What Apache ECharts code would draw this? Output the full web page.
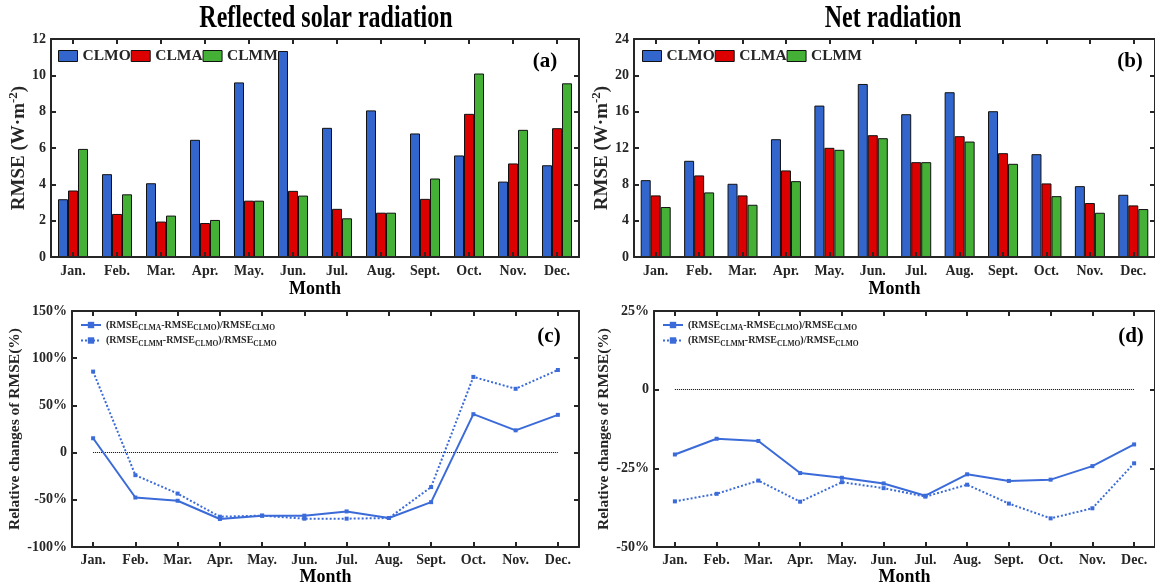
<!DOCTYPE html>
<html>
<head>
<meta charset="utf-8">
<script src="https://cdn.jsdelivr.net/npm/echarts@6/dist/echarts.min.js"></script>
<style>
html,body{margin:0;padding:0;background:#fff;}
#c{width:1155px;height:587px;}
</style>
</head>
<body>
<div id="c"></div>
<script>
const months = ['Jan.','Feb.','Mar.','Apr.','May.','Jun.','Jul.','Aug.','Sept.','Oct.','Nov.','Dec.'];

// (a) Reflected solar radiation RMSE (W·m-2)
const rsCLMO = [3.18, 4.56, 4.06, 6.45, 9.61, 11.34, 7.11, 8.07, 6.80, 5.59, 4.15, 5.05];
const rsCLMA = [3.66, 2.37, 1.95, 1.87, 3.10, 3.64, 2.65, 2.44, 3.20, 7.88, 5.15, 7.09];
const rsCLMM = [5.95, 3.45, 2.28, 2.04, 3.10, 3.38, 2.13, 2.44, 4.32, 10.10, 7.00, 9.56];

// (b) Net radiation RMSE (W·m-2)
const netCLMO = [8.46, 10.59, 8.06, 12.97, 16.67, 19.05, 15.72, 18.14, 16.05, 11.32, 7.80, 6.85];
const netCLMA = [6.78, 8.98, 6.78, 9.53, 12.02, 13.41, 10.44, 13.30, 11.43, 8.10, 5.94, 5.68];
const netCLMM = [5.50, 7.11, 5.75, 8.35, 11.80, 13.08, 10.44, 12.71, 10.26, 6.70, 4.87, 5.28];

// (c) Relative changes of RMSE (%), reflected solar radiation
const rsRelA = [15.2, -47.6, -51.0, -70.3, -66.8, -66.8, -62.3, -69.3, -52.5, 40.7, 23.6, 40.0];
const rsRelM = [85.8, -23.9, -43.4, -67.9, -66.8, -70.0, -70.0, -69.3, -36.5, 80.2, 67.6, 87.5];

// (d) Relative changes of RMSE (%), net radiation
const netRelA = [-20.6, -15.6, -16.3, -26.5, -28.0, -29.8, -33.7, -26.9, -29.0, -28.6, -24.3, -17.4];
const netRelM = [-35.5, -33.1, -28.9, -35.6, -29.4, -31.3, -34.0, -30.2, -36.2, -40.9, -37.7, -23.4];

const FONT = '"Liberation Serif","Times New Roman",serif';
const AX = '#262626';
const C_BLUE = '#3366CC', C_RED = '#DD0000', C_GREEN = '#44B035', C_LINE = '#3B6BD8';

const chart = echarts.init(document.getElementById('c'), null, {renderer:'canvas'});

function xAxes(gi, labelSize, nameGap, labelMargin) {
  const common = {
    type:'category', gridIndex:gi, data:months, boundaryGap:true, z:10,
    axisLine:{show:true, onZero:false, lineStyle:{color:AX, width:2}},
    axisTick:{show:true, inside:true, length:5, alignWithLabel:true, lineStyle:{color:AX, width:2}},
    splitLine:{show:false}
  };
  return [
    Object.assign({}, common, {
      position:'bottom',
      axisLabel:{show:true, interval:0, margin:labelMargin, fontFamily:FONT, fontWeight:'bold', fontSize:labelSize, color:AX},
      name:'Month', nameLocation:'middle', nameGap:nameGap,
      nameTextStyle:{fontFamily:FONT, fontWeight:'bold', fontSize:18, color:'#000'}
    }),
    Object.assign({}, common, {position:'top', axisLabel:{show:false}})
  ];
}

function yAxes(gi, min, max, interval, name, nameGap, nameStyle, fmt) {
  const common = {
    type:'value', gridIndex:gi, min:min, max:max, interval:interval, z:10,
    axisLine:{show:true, onZero:false, lineStyle:{color:AX, width:2}},
    axisTick:{show:true, inside:true, length:5, lineStyle:{color:AX, width:2}},
    splitLine:{show:false}
  };
  return [
    Object.assign({}, common, {
      position:'left',
      axisLabel:{show:true, margin:5, fontFamily:FONT, fontWeight:'bold', fontSize:14, color:AX, formatter:fmt},
      name:name, nameLocation:'middle', nameGap:nameGap, nameTextStyle:nameStyle
    }),
    Object.assign({}, common, {position:'right', axisLabel:{show:false}})
  ];
}

const rmseName = '{t|RMSE (W·m}{s|-2}{t|)}';
const rmseStyle = {
  fontFamily:FONT, fontWeight:'bold', fontSize:19, color:AX,
  rich:{
    t:{fontFamily:FONT, fontWeight:'bold', fontSize:19, color:AX},
    s:{fontFamily:FONT, fontWeight:'bold', fontSize:13, color:AX, padding:[0,0,10,0]}
  }
};
const relStyle = {fontFamily:FONT, fontWeight:'bold', fontSize:15.5, color:AX};
const pctFmt = v => (v === 0 ? '0' : v + '%');

const xs = [].concat(
  xAxes(0, 14, 23, 7), xAxes(1, 14, 23, 7),
  xAxes(2, 14, 21, 6), xAxes(3, 14, 21, 6)
);
const ys = [].concat(
  yAxes(0, 0, 12, 2, rmseName, 17, rmseStyle),
  yAxes(1, 0, 24, 4, rmseName, 18, rmseStyle),
  yAxes(2, -100, 150, 50, 'Relative changes of RMSE(%)', 44, relStyle, pctFmt),
  yAxes(3, -50, 25, 25, 'Relative changes of RMSE(%)', 37, relStyle, pctFmt)
);

function bar(name, data, color, gi) {
  return {
    type:'bar', name:name, data:data, xAxisIndex:gi*2, yAxisIndex:gi*2,
    barWidth:10, barGap:'0%', z:2,
    itemStyle:{color:color, borderColor:'#111', borderWidth:1},
    emphasis:{disabled:true}, animation:false
  };
}
function line(name, data, dotted, gi, zero) {
  const s = {
    type:'line', name:name, data:data, xAxisIndex:gi*2, yAxisIndex:gi*2,
    symbol:'rect', symbolSize:4, showSymbol:true,
    lineStyle:{color:C_LINE, width:2, type: dotted ? [2,2] : 'solid'},
    itemStyle:{color:C_LINE},
    emphasis:{disabled:true}, animation:false, z:5
  };
  if (zero) {
    s.markLine = {
      silent:true, symbol:['none','none'], animation:false,
      label:{show:false},
      lineStyle:{color:'#000', type:[1,1], width:1},
      data:[[{coord:['Jan.',0]},{coord:['Dec.',0]}]]
    };
  }
  return s;
}

const relA = 'A', relM = 'M';
const legRich = {
  s:{fontFamily:FONT, fontWeight:'bold', fontSize:7.5, color:AX, padding:[7,0,0,0]}
};
function relLegend(left) {
  return {
    left:left, top:320, padding:0, orient:'vertical', itemGap:3, itemWidth:20, itemHeight:8,
    data:[relA, relM],
    textStyle:{fontFamily:FONT, fontWeight:'bold', fontSize:10, color:AX, rich:legRich},
    formatter: n => n === relA ? '(RMSE{s|CLMA}-RMSE{s|CLMO})/RMSE{s|CLMO}' : '(RMSE{s|CLMM}-RMSE{s|CLMO})/RMSE{s|CLMO}',
    selectedMode:false
  };
}
function barLegend(left) {
  return {
    left:left, top:48, padding:0, orient:'horizontal', itemGap:0, itemWidth:19, itemHeight:11,
    icon:'rect', data:['CLMO','CLMA','CLMM'],
    itemStyle:{borderColor:'#111', borderWidth:1},
    textStyle:{fontFamily:FONT, fontWeight:'bold', fontSize:15.5, color:AX},
    selectedMode:false
  };
}

function gtext(x, y, text, size, scaleY) {
  return {
    type:'text', x:x, y:y, scaleY:scaleY || 1, z:100,
    style:{text:text, font:'bold ' + size + 'px ' + FONT, fill:'#000',
      textAlign:'center', textVerticalAlign:'middle', align:'center', verticalAlign:'middle'}
  };
}

chart.setOption({
  backgroundColor:'#fff',
  animation:false,
  grid:[
    {left:51, top:39, width:528, height:218},
    {left:634, top:39, width:526, height:218},
    {left:72, top:311, width:507, height:238},
    {left:654, top:311, width:506, height:238}
  ],
  xAxis:xs,
  yAxis:ys,
  legend:[barLegend(58), barLegend(642), relLegend(80), relLegend(662)],
  graphic:[
    gtext(326, 19, 'Reflected solar radiation', 24, 1.35),
    gtext(893, 19, 'Net radiation', 24, 1.35),
    gtext(545, 62, '(a)', 21),
    gtext(1130, 62, '(b)', 21),
    gtext(549, 337, '(c)', 21),
    gtext(1131, 337, '(d)', 21)
  ],
  series:[
    bar('CLMO', rsCLMO, C_BLUE, 0),
    bar('CLMA', rsCLMA, C_RED, 0),
    bar('CLMM', rsCLMM, C_GREEN, 0),
    bar('CLMO', netCLMO, C_BLUE, 1),
    bar('CLMA', netCLMA, C_RED, 1),
    bar('CLMM', netCLMM, C_GREEN, 1),
    line(relA, rsRelA, false, 2, true),
    line(relM, rsRelM, true, 2, false),
    line(relA, netRelA, false, 3, true),
    line(relM, netRelM, true, 3, false)
  ]
});
</script>
</body>
</html>
